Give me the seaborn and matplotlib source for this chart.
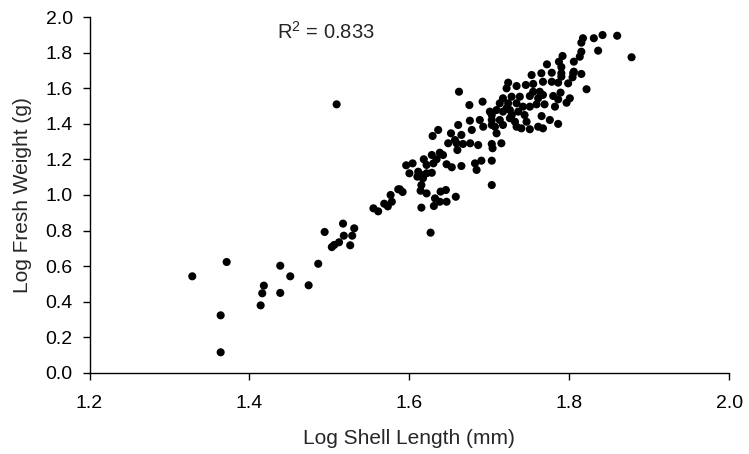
import numpy as np
import pandas as pd
import matplotlib
matplotlib.use("Agg")
import matplotlib.pyplot as plt
import seaborn as sns

# log shell length (mm) / log fresh weight (g)
shell_len = [
    1.3285, 1.364, 1.364, 1.3715, 1.414, 1.416, 1.418, 1.4385, 1.4385, 1.451,
    1.474, 1.486, 1.494, 1.503, 1.506, 1.512, 1.517, 1.518, 1.526, 1.5285,
    1.531, 1.509, 1.555, 1.561, 1.5685, 1.573, 1.578, 1.5765, 1.586,
    1.629, 1.652, 1.6485, 1.659, 1.667, 1.676, 1.686, 1.703, 1.715, 1.660,
    1.638, 1.628, 1.642, 1.618, 1.634, 1.596, 1.604, 1.630, 1.6465, 1.653,
    1.665, 1.682, 1.690, 1.703, 1.684, 1.600, 1.611, 1.615, 1.6215, 1.628,
    1.610, 1.617, 1.615, 1.703, 1.588, 1.5915, 1.614, 1.6215, 1.639,
    1.6456, 1.658, 1.632, 1.638, 1.6465, 1.6306, 1.615, 1.6265,
    1.636, 1.661, 1.6215,
    1.662, 1.675, 1.6915, 1.7235, 1.713, 1.7006, 1.709, 1.6756, 1.688, 1.665,
    1.678, 1.6923, 1.703, 1.709, 1.657, 1.734,
    1.7528, 1.765, 1.778, 1.790, 1.8048, 1.815, 1.7215, 1.734, 1.7456, 1.7548,
    1.767, 1.778, 1.786, 1.7985, 1.804, 1.8215, 1.7548, 1.763, 1.7506, 1.761,
    1.767, 1.7798, 1.789, 1.786, 1.8006, 1.7965, 1.717, 1.7278, 1.738, 1.7235,
    1.734, 1.742, 1.759, 1.769, 1.782, 1.717, 1.7256, 1.736, 1.744, 1.7653,
    1.703, 1.713, 1.7256, 1.732, 1.7465, 1.7756, 1.786, 1.707, 1.717, 1.740,
    1.7506, 1.761, 1.767, 1.704,
    1.772, 1.787, 1.7215, 1.7506, 1.703, 1.728,
    1.817, 1.815, 1.8306, 1.8415, 1.8598, 1.836, 1.815, 1.813, 1.8778, 1.7915,
    1.8056, 1.790, 1.8056, 1.790,
]
fresh_wt = [
    0.5425, 0.323, 0.115, 0.623, 0.379, 0.447, 0.490, 0.602, 0.449, 0.5425,
    0.492, 0.613, 0.792, 0.707, 0.719, 0.734, 0.839, 0.771, 0.717, 0.771,
    0.8125, 1.51, 0.925, 0.908, 0.951, 0.936, 0.962, 1.000, 1.032,
    1.332, 1.347, 1.291, 1.291, 1.287, 1.291, 1.281, 1.287, 1.291, 1.253,
    1.238, 1.225, 1.225, 1.201, 1.201, 1.167, 1.178, 1.178, 1.173, 1.156,
    1.163, 1.178, 1.193, 1.193, 1.141, 1.122, 1.131, 1.112, 1.122, 1.125,
    1.103, 1.094, 1.056, 1.056, 1.032, 1.017, 1.024, 1.009, 1.019,
    1.028, 0.990, 0.981, 0.962, 0.962, 0.938, 0.929, 0.788,
    1.366, 1.394, 1.169,
    1.581, 1.506, 1.525, 1.632, 1.516, 1.469, 1.478, 1.418, 1.422, 1.338,
    1.366, 1.384, 1.394, 1.347, 1.309, 1.384,
    1.675, 1.685, 1.688, 1.685, 1.685, 1.681, 1.600, 1.613, 1.619, 1.625,
    1.637, 1.637, 1.632, 1.628, 1.662, 1.595, 1.581, 1.581, 1.557, 1.544,
    1.563, 1.557, 1.576, 1.538, 1.544, 1.519, 1.544, 1.553, 1.553, 1.516,
    1.516, 1.497, 1.510, 1.510, 1.497, 1.469, 1.478, 1.469, 1.450, 1.444,
    1.422, 1.422, 1.432, 1.412, 1.412, 1.422, 1.400, 1.384, 1.394, 1.375,
    1.370, 1.384, 1.375, 1.263,
    1.735, 1.750, 1.488, 1.497, 1.450, 1.450,
    1.882, 1.857, 1.882, 1.900, 1.896, 1.812, 1.806, 1.778, 1.775, 1.782,
    1.750, 1.720, 1.694, 1.666,
]
r2_text = r"R$^{2}$ = 0.833"
x_ticks = [1.2, 1.4, 1.6, 1.8, 2.0]
y_ticks = [0.0, 0.2, 0.4, 0.6, 0.8, 1.0, 1.2, 1.4, 1.6, 1.8, 2.0]

df = pd.DataFrame({"shell": shell_len, "weight": fresh_wt})

sns.set_style("ticks")
plt.rcParams["font.family"] = ["Liberation Sans", "DejaVu Sans"]
plt.rcParams["mathtext.fontset"] = "custom"
plt.rcParams["mathtext.rm"] = "Liberation Sans"
plt.rcParams["mathtext.it"] = "Liberation Sans"
plt.rcParams["mathtext.default"] = "regular"

fig = plt.figure(figsize=(7.49, 4.54), dpi=100)
ax = fig.add_axes([0.1195, 0.179, 0.8542, 0.783])

sns.scatterplot(data=df, x="shell", y="weight", ax=ax, color="black",
                s=34, edgecolor="none", linewidth=0)

ax.text(1.434, 1.917, r2_text, ha="left", va="center", fontsize=14.5)

ax.set_xlim(1.2, 2.0)
ax.set_ylim(0.0, 2.0)
ax.set_xticks(x_ticks)
ax.set_yticks(y_ticks)
ax.set_xticklabels([f"{v:.1f}" for v in x_ticks])
ax.set_yticklabels([f"{v:.1f}" for v in y_ticks])
ax.tick_params(axis="both", direction="out", length=5, width=1.0,
               colors="black", labelsize=14)
ax.tick_params(axis="x", pad=11)
ax.tick_params(axis="y", pad=7)
ax.set_xlabel("Log Shell Length (mm)", fontsize=15, labelpad=12)
ax.set_ylabel("Log Fresh Weight (g)", fontsize=15, labelpad=10)
sns.despine(ax=ax)
for side in ["left", "bottom"]:
    ax.spines[side].set_linewidth(1.0)
    ax.spines[side].set_color("black")

fig.savefig("out.png", dpi=100)
